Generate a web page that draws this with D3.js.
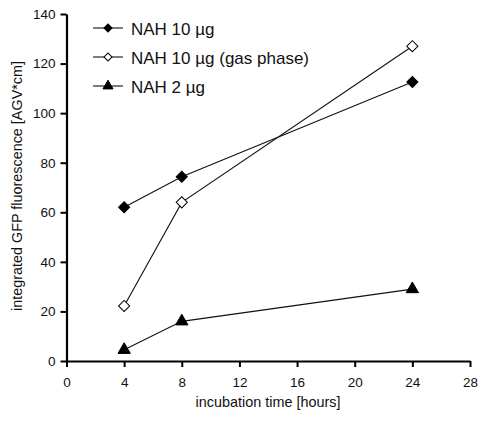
<!DOCTYPE html>
<html>
<head>
<meta charset="utf-8">
<script src="https://cdn.jsdelivr.net/npm/d3@7"></script>
<style>
  body { margin: 0; background: #fff; }
  text { font-family: "Liberation Sans", Arial, sans-serif; }
</style>
</head>
<body>
<div id="chart"></div>
<script>
const WIDTH = 480;
const HEIGHT = 423;

// datos
const horas = [4, 8, 24];
const nah10 = [62, 74.3, 112.6];
const nah10Gas = [22.2, 64, 127];
const nah2 = [4.5, 16, 29];
const xTicks = [0, 4, 8, 12, 16, 20, 24, 28];
const yTicks = [0, 20, 40, 60, 80, 100, 120, 140];

const series = [
    { nombre: "NAH 10 \u00b5g", valores: nah10, tipo: "rombo", relleno: "#000" },
    { nombre: "NAH 10 \u00b5g (gas phase)", valores: nah10Gas, tipo: "rombo", relleno: "#fff" },
    { nombre: "NAH 2 \u00b5g", valores: nah2, tipo: "triangulo", relleno: "#000" }
];

const margen = { top: 14, right: 10, bottom: 62, left: 66.5 };

const SVG = d3.select("#chart").append("svg")
    .attr("width", WIDTH)
    .attr("height", HEIGHT);

const x = d3.scaleLinear().domain([0, 28]).range([margen.left, 470]);
const y = d3.scaleLinear().domain([0, 140]).range([361, margen.top]);

// marcador: rombo = cuadrado girado 45°
function marcador(sel, tipo, grande) {
    if (tipo === "rombo") {
        sel.attr("d", d3.symbol().type(d3.symbolSquare).size(grande ? 62 : 32));
    } else {
        sel.attr("d", d3.symbol().type(d3.symbolTriangle).size(grande ? 66 : 44));
    }
}

// ejes
const ejeX = SVG.append("g")
    .attr("transform", `translate(0,${y(0)})`)
    .call(d3.axisBottom(x).tickValues(xTicks).tickSize(6).tickSizeOuter(0).tickPadding(10));

const ejeY = SVG.append("g")
    .attr("transform", `translate(${x(0)},0)`)
    .call(d3.axisLeft(y).tickValues(yTicks).tickSize(6).tickSizeOuter(0).tickPadding(5));

[ejeX, ejeY].forEach(eje => {
    eje.select(".domain").attr("stroke", "#000").attr("stroke-width", 2.2);
    eje.selectAll(".tick line").attr("stroke", "#000").attr("stroke-width", 2);
    eje.selectAll(".tick text")
        .attr("font-size", "13.5px")
        .attr("font-family", "Liberation Sans, Arial, sans-serif")
        .attr("fill", "#111");
});

// títulos de ejes
SVG.append("text")
    .attr("x", 268)
    .attr("y", 407)
    .attr("text-anchor", "middle")
    .attr("font-size", "14.4px")
    .attr("fill", "#111")
    .text("incubation time [hours]");

SVG.append("text")
    .attr("transform", `translate(22,186) rotate(-90)`)
    .attr("text-anchor", "middle")
    .attr("font-size", "14.4px")
    .attr("fill", "#111")
    .text("integrated GFP fluorescence [AGV*cm]");

// líneas y marcadores
const linea = d3.line()
    .x((d, i) => x(horas[i]))
    .y(d => y(d));

series.forEach(s => {
    SVG.append("path")
        .datum(s.valores)
        .attr("d", linea)
        .attr("fill", "none")
        .attr("stroke", "#111")
        .attr("stroke-width", 1.1);

    SVG.selectAll(null)
        .data(s.valores)
        .enter()
        .append("path")
        .call(marcador, s.tipo, true)
        .attr("transform", (d, i) => `translate(${x(horas[i])},${y(d)})` + (s.tipo === "rombo" ? " rotate(45)" : ""))
        .attr("fill", s.relleno)
        .attr("stroke", "#000")
        .attr("stroke-width", 1);
});

// leyenda
const leyenda = SVG.append("g");
series.forEach((s, i) => {
    const base = 35 + i * 29;
    const yy = base - 7;
    leyenda.append("line")
        .attr("x1", 93).attr("x2", 123)
        .attr("y1", yy).attr("y2", yy)
        .attr("stroke", "#111")
        .attr("stroke-width", 1.1);
    leyenda.append("path")
        .call(marcador, s.tipo, false)
        .attr("transform", `translate(108,${yy})` + (s.tipo === "rombo" ? " rotate(45)" : ""))
        .attr("fill", s.relleno)
        .attr("stroke", "#000")
        .attr("stroke-width", 1);
    leyenda.append("text")
        .attr("x", 131)
        .attr("y", base)
        .attr("font-size", "17px")
        .attr("fill", "#111")
        .text(s.nombre);
});
</script>
</body>
</html>
